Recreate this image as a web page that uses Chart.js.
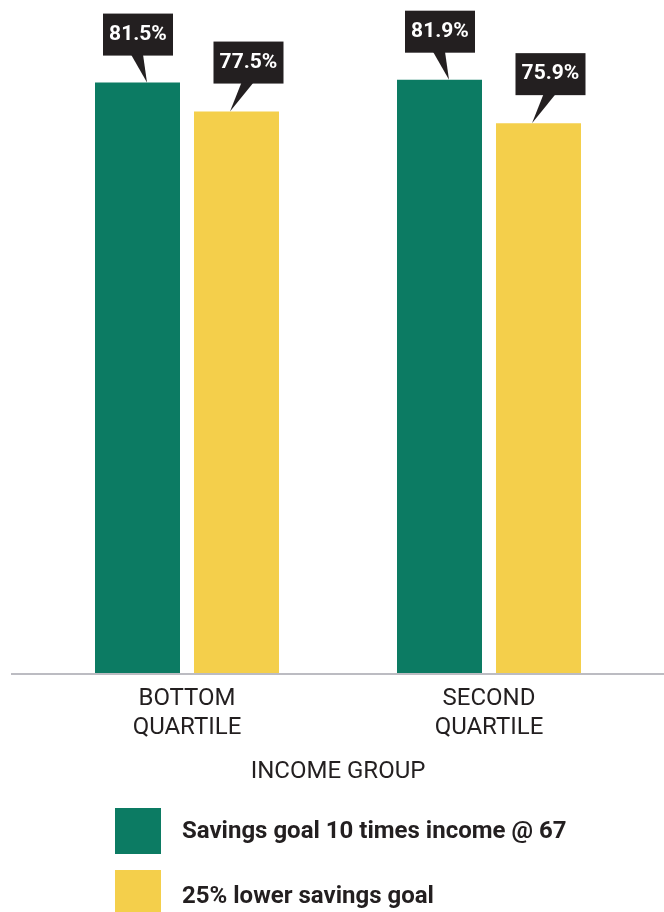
<!DOCTYPE html>
<html>
<head>
<meta charset="utf-8">
<script src="https://cdn.jsdelivr.net/npm/chart.js@4.4.0/dist/chart.umd.min.js"></script>
<style>
  html, body { margin: 0; padding: 0; background: #fff; }
  #wrap { width: 664px; height: 912px; position: relative; }
</style>
</head>
<body>
<div id="wrap"><canvas id="grafica" width="664" height="912"></canvas></div>
<script>
var categorias = [["BOTTOM", "QUARTILE"], ["SECOND", "QUARTILE"]];
var serie1Nombre = "Savings goal 10 times income @ 67";
var serie1 = [81.5, 81.9];
var serie2Nombre = "25% lower savings goal";
var serie2 = [77.5, 75.9];
var tituloX = "INCOME GROUP";

var verde = "#0c7b63";
var amarillo = "#f4cf4b";
var oscuro = "#231f20";

// callout boxes over each bar (black tag with a pointer)
var etiquetas = {
  id: "etiquetas",
  afterDatasetsDraw: function(chart) {
    var ctx = chart.ctx;
    ctx.save();
    chart.data.datasets.forEach(function(ds, d) {
      var meta = chart.getDatasetMeta(d);
      meta.data.forEach(function(bar, i) {
        var cx = d == 0 ? bar.x + 0.5 : bar.x + 12;
        var tipX = d == 0 ? bar.x + 9.5 : bar.x - 6.5;
        var bottom = bar.y - (d == 0 ? 27 : 28);
        var w = 70, h = 42;
        ctx.fillStyle = oscuro;
        ctx.fillRect(cx - w / 2, bottom - h, w, h);
        ctx.beginPath();
        ctx.moveTo(cx - 7, bottom - 1);
        ctx.lineTo(cx + 5, bottom - 1);
        ctx.lineTo(tipX, bar.y);
        ctx.closePath();
        ctx.fill();
        ctx.fillStyle = "#fff";
        ctx.font = "bold 21px Roboto";
        ctx.textAlign = "center";
        ctx.textBaseline = "middle";
        ctx.fillText(ds.data[i].toFixed(1) + "%", cx, bottom - h / 2);
      });
    });
    ctx.restore();
  }
};

// baseline across the whole width and the legend below
var extras = {
  id: "extras",
  afterDraw: function(chart) {
    var ctx = chart.ctx;
    var y0 = chart.scales.y.getPixelForValue(0);
    ctx.save();
    ctx.strokeStyle = "#bcbcc2";
    ctx.lineWidth = 2;
    ctx.beginPath();
    ctx.moveTo(11, y0 + 1);
    ctx.lineTo(664, y0 + 1);
    ctx.stroke();

    chart.data.datasets.forEach(function(ds, d) {
      var top = 808 + d * 62;
      ctx.fillStyle = ds.backgroundColor;
      ctx.fillRect(115, top, 46, 46);
      ctx.fillStyle = oscuro;
      ctx.font = "bold 24px Roboto";
      ctx.textAlign = "left";
      ctx.textBaseline = "middle";
      ctx.fillText(ds.label, 182, top + 24 + d * 3);
    });
    ctx.restore();
  }
};

var ctx = document.getElementById("grafica");

var grafica = new Chart(ctx, {
  type: "bar",
  data: {
    labels: categorias,
    datasets: [
      { label: serie1Nombre, data: serie1, backgroundColor: verde },
      { label: serie2Nombre, data: serie2, backgroundColor: amarillo }
    ]
  },
  options: {
    responsive: false,
    animation: false,
    events: [],
    categoryPercentage: 0.6556,
    barPercentage: 0.8586,
    layout: { padding: { left: 36, right: 24, top: 0, bottom: 125.6 } },
    plugins: {
      legend: { display: false },
      tooltip: { enabled: false }
    },
    scales: {
      x: {
        grid: { display: false, drawTicks: false },
        border: { display: false },
        ticks: { color: oscuro, padding: 12, font: { family: "Roboto", size: 24 } },
        title: {
          display: true,
          text: tituloX,
          color: oscuro,
          font: { family: "Roboto", size: 24 },
          padding: { top: 3, bottom: 0 }
        }
      },
      y: {
        display: false,
        min: 0,
        max: 92.9
      }
    }
  },
  plugins: [etiquetas, extras]
});
</script>
</body>
</html>
